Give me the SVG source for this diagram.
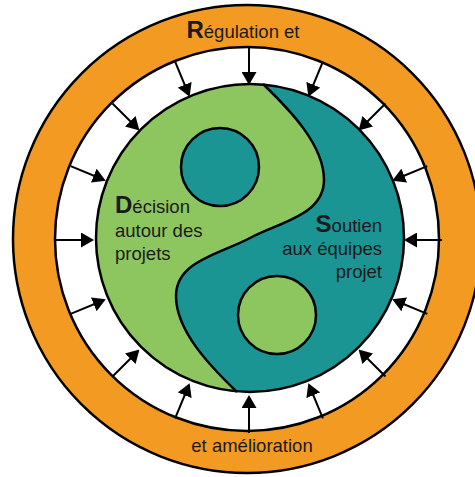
<svg xmlns="http://www.w3.org/2000/svg" width="475" height="477" viewBox="0 0 475 477">
<style>
.ol{stroke:#000;stroke-width:2.5}
.t{font-family:"Liberation Sans",Arial,sans-serif;font-size:18.5px;fill:#1a1a1a}
.b{font-weight:bold;font-size:24px}
.ar{stroke:#000;stroke-width:2;fill:none;marker-end:url(#ah)}
</style>
<defs>
<marker id="ah" viewBox="0 0 13 15" markerUnits="userSpaceOnUse" markerWidth="13" markerHeight="15" refX="10" refY="7.5" orient="auto">
<path d="M0,0 L13,7.5 L0,15 Z" fill="#000"/>
</marker>
<clipPath id="yy"><circle cx="250" cy="238" r="154"/></clipPath>
</defs>
<rect width="475" height="477" fill="#fff"/>
<g id="ring">
<circle cx="247" cy="239" r="234" fill="#F29A21" class="ol"/>
<circle cx="247" cy="239" r="192" fill="#fff" class="ol"/>
<text class="t" x="243" y="38" text-anchor="middle"><tspan class="b">R</tspan>égulation et</text>
<text class="t" x="252" y="452" text-anchor="middle">et amélioration</text>
</g>
<g id="yinyang">
<circle cx="250" cy="238" r="154" fill="#1B9494"/>
<path clip-path="url(#yy)" fill="#8DC55F" d="M263,84 C290,110 324,145 324,180 C324,215 280,222 250,238 C220,254 176,261 176,296 C176,331 210,366 237,392 L60,410 L60,60 Z"/>
<path fill="none" class="ol" d="M263,84 C290,110 324,145 324,180 C324,215 280,222 250,238 C220,254 176,261 176,296 C176,331 210,366 237,392"/>
<circle cx="250" cy="238" r="154" fill="none" class="ol"/>
</g>
<g id="decision">
<circle cx="220" cy="167" r="39" fill="#1B9494" class="ol"/>
<text class="t" x="115" y="213"><tspan class="b">D</tspan>écision</text>
<text class="t" x="115" y="237">autour des</text>
<text class="t" x="115" y="260">projets</text>
</g>
<g id="soutien">
<circle cx="277" cy="315" r="39" fill="#8DC55F" class="ol"/>
<text class="t" x="382" y="232" text-anchor="end"><tspan class="b">S</tspan>outien</text>
<text class="t" x="382" y="255" text-anchor="end">aux équipes</text>
<text class="t" x="382" y="278" text-anchor="end">projet</text>
</g>
<g id="connectors">
<line class="ar" x1="442" y1="240" x2="407" y2="240"/>
<line class="ar" x1="427.3" y1="313.9" x2="395" y2="300.5"/>
<line class="ar" x1="385.5" y1="376.5" x2="360.7" y2="351.7"/>
<line class="ar" x1="322.9" y1="418.3" x2="309.5" y2="386"/>
<line class="ar" x1="249" y1="433" x2="249" y2="398"/>
<line class="ar" x1="175.1" y1="418.3" x2="188.5" y2="386"/>
<line class="ar" x1="112.5" y1="376.5" x2="137.3" y2="351.7"/>
<line class="ar" x1="70.7" y1="313.9" x2="103" y2="300.5"/>
<line class="ar" x1="56" y1="240" x2="91" y2="240"/>
<line class="ar" x1="70.7" y1="166.1" x2="103" y2="179.5"/>
<line class="ar" x1="112.5" y1="103.5" x2="137.3" y2="128.3"/>
<line class="ar" x1="175.1" y1="61.7" x2="188.5" y2="94"/>
<line class="ar" x1="249" y1="47" x2="249" y2="82"/>
<line class="ar" x1="322.9" y1="61.7" x2="309.5" y2="94"/>
<line class="ar" x1="385.5" y1="103.5" x2="360.7" y2="128.3"/>
<line class="ar" x1="427.3" y1="166.1" x2="395" y2="179.5"/>
</g>
</svg>
